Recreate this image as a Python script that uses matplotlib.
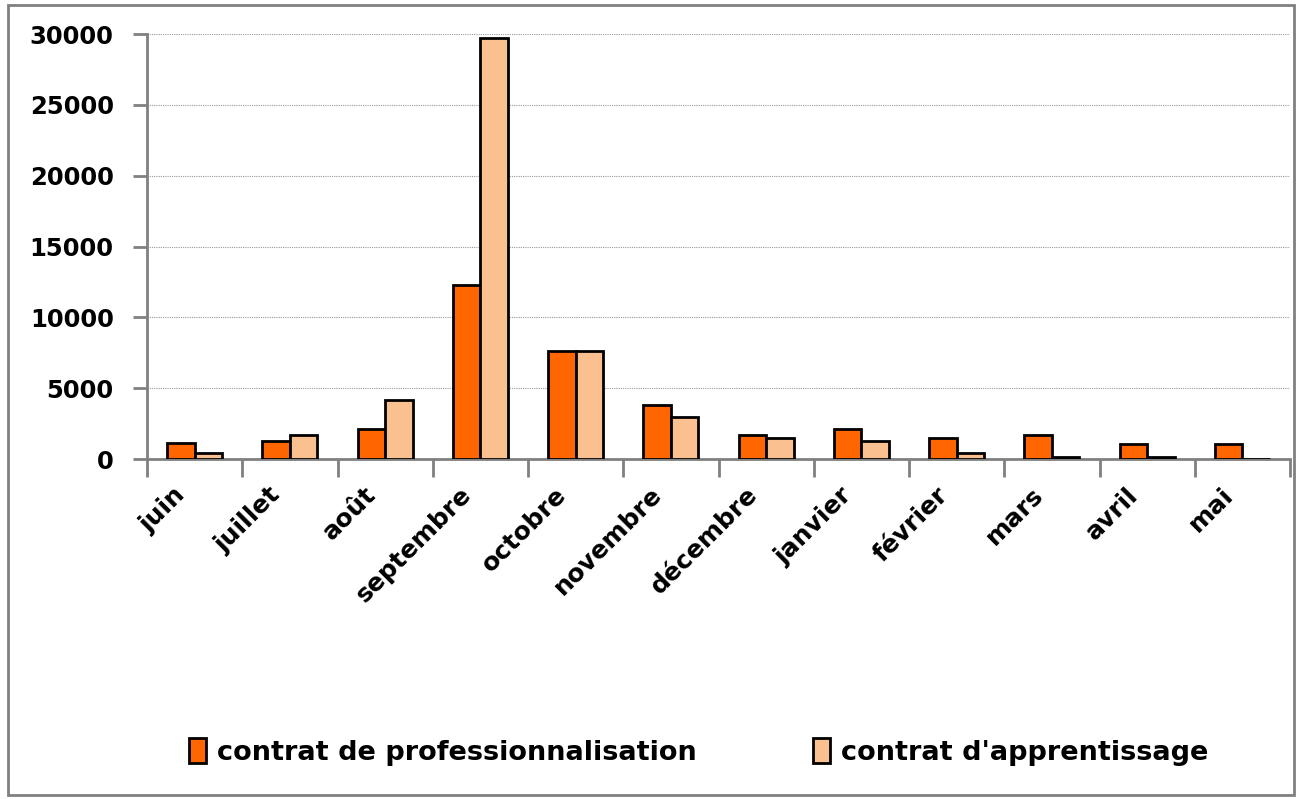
import numpy as np
import matplotlib
matplotlib.use('Agg')
import matplotlib.pyplot as plt
import matplotlib.transforms as mtransforms
from matplotlib.patches import Rectangle

plt.rcParams['font.family'] = ['DejaVu Sans']

months = ['juin', 'juillet', 'août', 'septembre', 'octobre', 'novembre',
          'décembre', 'janvier', 'février', 'mars', 'avril', 'mai']
pro = [1100, 1250, 2100, 12300, 7600, 3800, 1700, 2100, 1450, 1700, 1060, 1060]
appr = [400, 1700, 4200, 29700, 7600, 2950, 1450, 1250, 400, 150, 150, 0]
yticks = [0, 5000, 10000, 15000, 20000, 25000, 30000]

orange = '#FF6600'
peach = '#FAC090'
gray = '#808080'

fig = plt.figure(figsize=(12.99, 7.99), dpi=100)
ax = fig.add_axes([147 / 1299, 1 - 459 / 799, (1290 - 147) / 1299, (459 - 34) / 799])

x = np.arange(len(months))
w = 0.29
ax.bar(x - w / 2, pro, w, color=orange, edgecolor='black', linewidth=2,
       label='contrat de professionnalisation', zorder=3)
ax.bar(x + w / 2, appr, w, color=peach, edgecolor='black', linewidth=2,
       label="contrat d'apprentissage", zorder=3)

ax.set_xlim(-0.5, len(months) - 0.5)
ax.set_ylim(0, 30000)
ax.set_yticks(yticks)
ax.set_yticklabels([str(v) for v in yticks], fontsize=17.5, fontweight='bold')
ax.yaxis.grid(True, linestyle=(0, (1, 1)), color='#999999', linewidth=0.8)
ax.set_axisbelow(True)

# x ticks at category boundaries, labels at centres
ax.set_xticks(np.arange(len(months) + 1) - 0.5)
ax.set_xticklabels([])
ax.set_xticks(x, minor=True)
ax.set_xticklabels(months, minor=True, rotation=45, ha='right',
                   rotation_mode='anchor', fontsize=18, fontweight='bold')
ax.tick_params(axis='x', which='minor', length=0, pad=17)
ax.tick_params(axis='x', which='major', length=13, width=2, color=gray)
ax.tick_params(axis='y', length=10, width=2, color=gray, pad=14)

shift = mtransforms.ScaledTranslation(-21 / 100, 0, fig.dpi_scale_trans)
for lab in ax.get_xticklabels(minor=True):
    lab.set_transform(lab.get_transform() + shift)

for s in ['top', 'right']:
    ax.spines[s].set_visible(False)
for s in ['left', 'bottom']:
    ax.spines[s].set_color(gray)
    ax.spines[s].set_linewidth(2)

fig.legend(loc='center', bbox_to_anchor=(0.538, 1 - 752 / 799), ncol=2,
           frameon=False, prop={'size': 19.5, 'weight': 'bold'},
           handlelength=0.62, handleheight=1.0, handletextpad=0.4,
           columnspacing=4.3)

fig.patches.append(Rectangle((8 / 1299, 4 / 799), 1286 / 1299, 790 / 799,
                             transform=fig.transFigure, fill=False,
                             edgecolor=gray, linewidth=2))

fig.savefig('out.png', dpi=100)
